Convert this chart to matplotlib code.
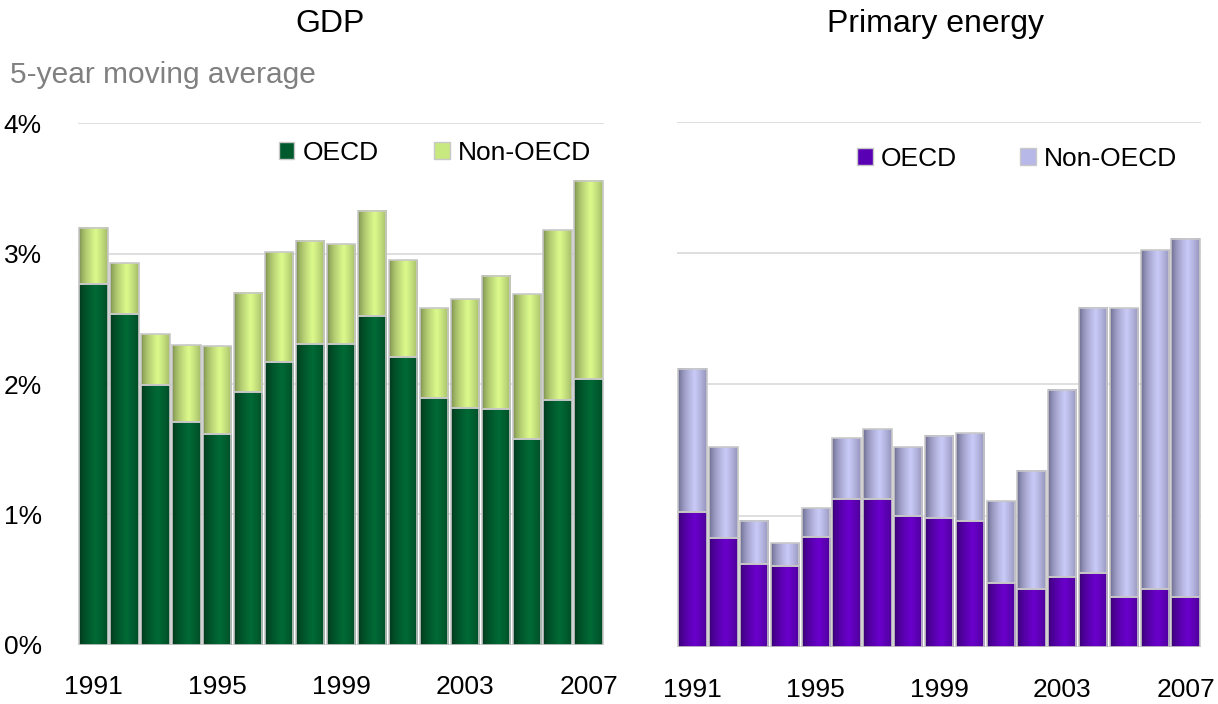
"""GDP vs primary energy growth, OECD / non-OECD contributions (5-year moving average)."""
import matplotlib
matplotlib.use("Agg")
import matplotlib.pyplot as plt
from matplotlib.patches import Patch
from matplotlib.colors import to_rgb
import numpy as np

plt.rcParams["font.family"] = ["Liberation Sans", "DejaVu Sans"]

years = list(range(1991, 2008))
tick_years = [1991, 1995, 1999, 2003, 2007]

# GDP growth, % per year (stacked: OECD + Non-OECD contribution)
gdp_oecd = [2.77, 2.54, 1.99, 1.71, 1.62, 1.94, 2.17, 2.31, 2.31, 2.52,
            2.21, 1.89, 1.82, 1.81, 1.58, 1.88, 2.04]
gdp_total = [3.20, 2.93, 2.38, 2.30, 2.29, 2.70, 3.01, 3.10, 3.07, 3.33,
             2.95, 2.58, 2.65, 2.83, 2.69, 3.18, 3.56]
gdp_non = [t - o for t, o in zip(gdp_total, gdp_oecd)]

# Primary energy growth, % per year
en_oecd = [1.03, 0.83, 0.63, 0.62, 0.84, 1.13, 1.13, 1.00, 0.98, 0.96,
           0.49, 0.44, 0.53, 0.56, 0.38, 0.44, 0.38]
en_total = [2.12, 1.52, 0.96, 0.79, 1.06, 1.59, 1.66, 1.52, 1.61, 1.63,
            1.11, 1.34, 1.96, 2.58, 2.58, 3.02, 3.11]
en_non = [t - o for t, o in zip(en_total, en_oecd)]

# (edge shade, centre highlight) for the cylinder-like shading
COLORS = {
    "gdp_oecd": ("#02331a", "#006a35"),
    "gdp_non":  ("#75864a", "#dcfa8c"),
    "en_oecd":  ("#33006a", "#6a00cc"),
    "en_non":   ("#646486", "#cacaf8"),
}


def shaded(ax, x, bottom, height, key, width=0.92):
    dark, light = (np.array(to_rgb(c)) for c in COLORS[key])
    t = np.linspace(0, 1, 40)
    w = np.clip(1 - np.abs(t - 0.58) / 0.58, 0, 1) ** 0.6
    img = dark[None, :] * (1 - w[:, None]) + light[None, :] * w[:, None]
    for xi, b, h in zip(x, bottom, height):
        ax.imshow(img[None, :, :], extent=(xi - width / 2, xi + width / 2, b, b + h),
                  aspect="auto", zorder=2, interpolation="bilinear")
    ax.bar(x, height, bottom=bottom, width=width, facecolor="none",
           edgecolor="#c8c8c8", linewidth=1.2, zorder=3)


fig = plt.figure(figsize=(12.18, 7.04), dpi=100)
ax1 = fig.add_axes([0.064, 0.084, 0.432, 0.741])
ax2 = fig.add_axes([0.556, 0.081, 0.430, 0.746])

x = np.arange(len(years))
shaded(ax1, x, [0] * len(x), gdp_oecd, "gdp_oecd")
shaded(ax1, x, gdp_oecd, gdp_non, "gdp_non")
shaded(ax2, x, [0] * len(x), en_oecd, "en_oecd")
shaded(ax2, x, en_oecd, en_non, "en_non")

for ax in (ax1, ax2):
    ax.set_xlim(-0.5, len(years) - 0.5)
    ax.set_ylim(0, 4)
    ax.set_yticks([0, 1, 2, 3, 4])
    ax.yaxis.grid(True, color="#d9d9d9", linewidth=1.2)
    ax.set_axisbelow(True)
    for s in ax.spines.values():
        s.set_visible(False)
    ax.set_xticks([years.index(y) for y in tick_years])
    ax.set_xticklabels([str(y) for y in tick_years], fontsize=19)
    ax.tick_params(axis="x", length=0, pad=22)
    ax.tick_params(axis="y", length=0, pad=26, labelsize=19)

ax1.set_yticklabels([f"{v}%" for v in range(5)])
ax2.set_yticklabels([])

fig.text(0.271, 0.966, "GDP", ha="center", va="center", fontsize=23)
fig.text(0.768, 0.966, "Primary energy", ha="center", va="center", fontsize=23)
fig.text(0.008, 0.893, "5-year moving average", ha="left", va="center",
         fontsize=21.5, color="#808080")

leg_kw = dict(ncol=2, frameon=False, fontsize=19, handlelength=0.6,
              handleheight=0.6, handletextpad=0.3)
ax1.legend(handles=[Patch(facecolor="#005a2c", edgecolor="#c8c8c8", label="OECD"),
                    Patch(facecolor="#c8e880", edgecolor="#c8c8c8", label="Non-OECD")],
           loc="upper right", bbox_to_anchor=(1.02, 1.012), columnspacing=2.1, **leg_kw)
ax2.legend(handles=[Patch(facecolor="#5a00b4", edgecolor="#c8c8c8", label="OECD"),
                    Patch(facecolor="#b8b8e8", edgecolor="#c8c8c8", label="Non-OECD")],
           loc="upper right", bbox_to_anchor=(1.0, 0.998), columnspacing=2.4, **leg_kw)

fig.savefig("out.png", dpi=100, facecolor="white")
